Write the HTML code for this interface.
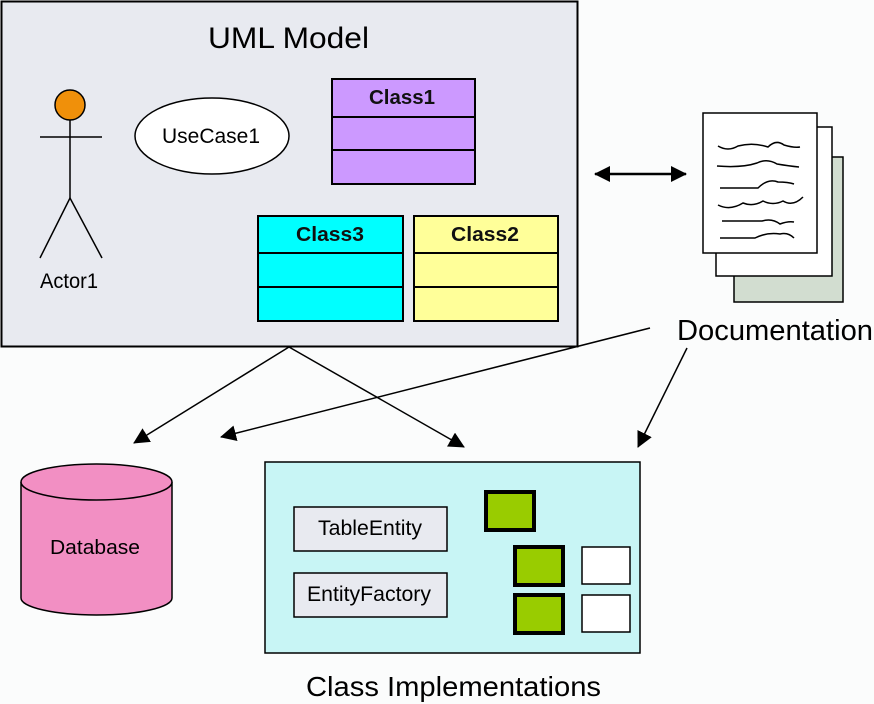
<!DOCTYPE html>
<html><head><meta charset="utf-8"><style>
body{margin:0;background:#fbfcfc;}
svg{display:block;font-family:"Liberation Sans",sans-serif;}
</style></head><body>
<svg width="874" height="704" viewBox="0 0 874 704" xmlns="http://www.w3.org/2000/svg">
<defs>
<marker id="ah2" markerWidth="16" markerHeight="16" refX="15" refY="8" orient="auto" markerUnits="userSpaceOnUse" viewBox="0 0 16 16">
<path d="M0,0 L16,8 L0,16 z" fill="#000"/></marker>
<marker id="as" markerWidth="16" markerHeight="16" refX="15" refY="8" orient="auto-start-reverse" markerUnits="userSpaceOnUse" viewBox="0 0 16 16">
<path d="M0,0 L16,8 L0,16 z" fill="#000"/></marker>
</defs>
<rect x="0" y="0" width="874" height="704" fill="#fbfcfc"/>
<rect x="1.5" y="1.5" width="576" height="345" fill="#e8eaf0" stroke="#000" stroke-width="2"/>
<text x="208" y="48" font-size="30" textLength="161" lengthAdjust="spacingAndGlyphs">UML Model</text>
<circle cx="70" cy="105" r="15" fill="#f0900a" stroke="#000" stroke-width="1.5"/>
<line x1="70" y1="120" x2="70" y2="198" stroke="#000" stroke-width="1.5"/>
<line x1="40" y1="137" x2="102" y2="137" stroke="#000" stroke-width="1.5"/>
<polyline points="40,258 70,198 102,258" fill="none" stroke="#000" stroke-width="1.5"/>
<text x="40" y="288" font-size="21" textLength="58" lengthAdjust="spacingAndGlyphs">Actor1</text>
<ellipse cx="212" cy="136" rx="77" ry="38" fill="#fff" stroke="#000" stroke-width="1.5"/>
<text x="162" y="143" font-size="21" textLength="98" lengthAdjust="spacingAndGlyphs">UseCase1</text>
<g stroke="#000" stroke-width="2">
<rect x="332" y="79" width="143" height="105" fill="#cc99ff"/>
<line x1="332" y1="117" x2="475" y2="117"/><line x1="332" y1="150" x2="475" y2="150"/>
<rect x="258" y="216" width="145" height="105" fill="#00ffff"/>
<line x1="258" y1="253" x2="403" y2="253"/><line x1="258" y1="287" x2="403" y2="287"/>
<rect x="414" y="216" width="144" height="105" fill="#ffff99"/>
<line x1="414" y1="253" x2="558" y2="253"/><line x1="414" y1="287" x2="558" y2="287"/>
</g>
<g font-size="20" font-weight="bold" fill="#111">
<text x="369" y="104" textLength="66" lengthAdjust="spacingAndGlyphs">Class1</text>
<text x="296" y="241" textLength="68" lengthAdjust="spacingAndGlyphs">Class3</text>
<text x="451" y="241" textLength="68" lengthAdjust="spacingAndGlyphs">Class2</text>
</g>
<line x1="595" y1="174" x2="686" y2="174" stroke="#000" stroke-width="2.5" marker-start="url(#as)" marker-end="url(#ah2)"/>
<rect x="734" y="157" width="109" height="145" fill="#d2ddd0" stroke="#000" stroke-width="1.5"/>
<rect x="716" y="127" width="116" height="149" fill="#fff" stroke="#000" stroke-width="1.5"/>
<rect x="703" y="113" width="114" height="140" fill="#fff" stroke="#000" stroke-width="1.5"/>
<g fill="none" stroke="#000" stroke-width="1.5">
<path d="M718,146 q10,6 20,0 q15,-4 30,1 q8,-8 16,-2 q10,3 16,2"/>
<path d="M717,166 q25,2 40,-3 q10,-5 20,1 q12,2 22,3"/>
<path d="M720,188 l38,0 q10,-10 20,-6 q10,0 16,2"/>
<path d="M718,205 q12,6 25,-2 q10,4 20,-2 q10,5 20,0 q10,6 20,-4"/>
<path d="M722,221 l40,0 q10,-3 18,3 q8,-3 14,-2"/>
<path d="M720,238 l35,0 q12,-6 25,-4 q8,-2 14,4"/>
</g>
<text x="677" y="340" font-size="29" textLength="196" lengthAdjust="spacingAndGlyphs">Documentation</text>
<g stroke="#000" stroke-width="1.5" fill="none">
<line x1="289" y1="347" x2="134" y2="443" marker-end="url(#ah2)"/>
<line x1="289" y1="347" x2="464" y2="447" marker-end="url(#ah2)"/>
<line x1="650" y1="328" x2="221" y2="437" marker-end="url(#ah2)"/>
<line x1="687" y1="348" x2="638" y2="447" marker-end="url(#ah2)"/>
</g>
<path d="M21,482 L21,598 A75.5,17 0 0 0 172,598 L172,482" fill="#f28fc3" stroke="#000" stroke-width="1.5"/>
<ellipse cx="96.5" cy="482" rx="75.5" ry="18" fill="#f28fc3" stroke="#000" stroke-width="1.5"/>
<text x="50" y="554" font-size="20" textLength="90" lengthAdjust="spacingAndGlyphs">Database</text>
<rect x="265" y="462" width="375" height="191" fill="#c8f5f5" stroke="#000" stroke-width="1.5"/>
<rect x="294" y="507" width="153" height="44" fill="#e8eaf0" stroke="#000" stroke-width="1.5"/>
<rect x="294" y="573" width="153" height="44" fill="#e8eaf0" stroke="#000" stroke-width="1.5"/>
<text x="318" y="535" font-size="21" textLength="104" lengthAdjust="spacingAndGlyphs">TableEntity</text>
<text x="307" y="601" font-size="21" textLength="124" lengthAdjust="spacingAndGlyphs">EntityFactory</text>
<g fill="#99cc00" stroke="#000" stroke-width="4">
<rect x="486" y="492" width="48" height="38"/>
<rect x="515" y="547" width="48" height="38"/>
<rect x="515" y="595" width="48" height="38"/>
</g>
<rect x="582" y="547" width="48" height="37" fill="#fff" stroke="#000" stroke-width="1.5"/>
<rect x="582" y="595" width="48" height="37" fill="#fff" stroke="#000" stroke-width="1.5"/>
<text x="306" y="696" font-size="28" textLength="295" lengthAdjust="spacingAndGlyphs">Class Implementations</text>
</svg>
</body></html>
